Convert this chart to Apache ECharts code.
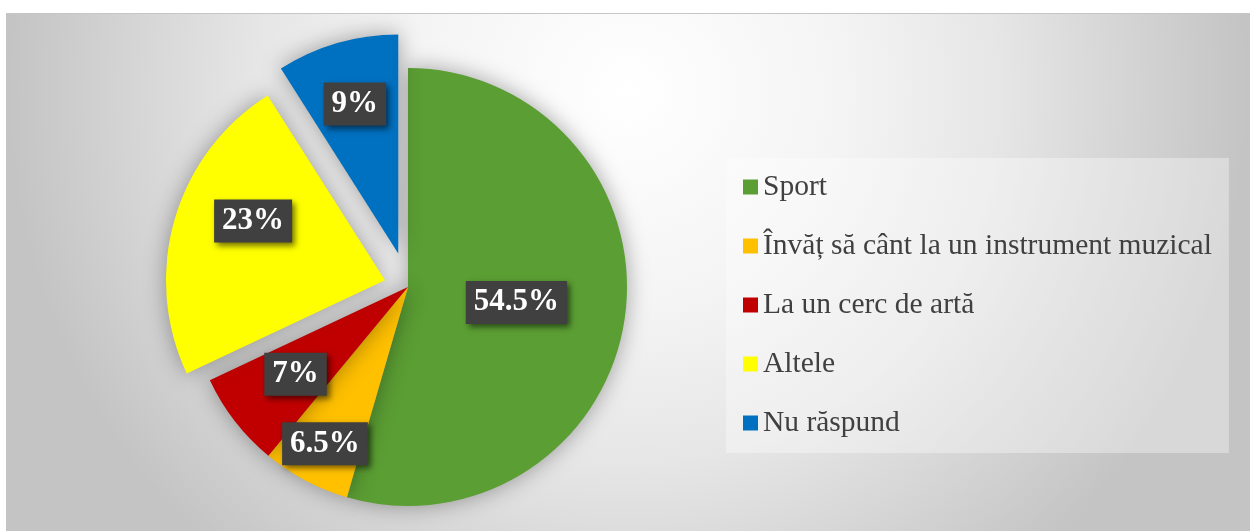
<!DOCTYPE html>
<html lang="ro">
<head>
<meta charset="UTF-8">
<title>Activități extrașcolare</title>
<script src="https://cdn.jsdelivr.net/npm/echarts@6/dist/echarts.min.js"></script>
<style>
    html, body { margin: 0; padding: 0; background: #fff; }
    #chart {
        position: absolute; left: 6px; top: 13px;
        width: 1244px; height: 518px;
        border-top: 1px solid #c6c6c6;
        box-sizing: border-box;
    }
</style>
</head>
<body>
<div id="chart"></div>
<script>
    // date
    var categories = ['Sport', 'Învăț să cânt la un instrument muzical', 'La un cerc de artă', 'Altele', 'Nu răspund'];
    var shares = [54.5, 6.5, 7, 23, 9];

    // aspect
    var colors = ['#5b9e33', '#ffc000', '#c00000', '#ffff00', '#0070c0'];
    var explode = [0, 0, 0, 24, 35];          // px, felii scoase din centru
    var labelAt = [[0.5, 0], [0.81, 0], [0.65, 0], [0.66, 8], [0.71, 0]]; // fractie din raza, deviere unghi
    var cx = 402, cy = 273, R = 219;
    var serif = '"Liberation Serif", "Times New Roman", serif';

    var total = shares.reduce(function (a, b) { return a + b; }, 0);

    function midAngle(i) {
        var before = 0;
        for (var k = 0; k < i; k++) before += shares[k];
        return (before + shares[i] / 2) / total * 360;
    }

    // o serie pe felie, ca fiecare felie sa aiba propria deplasare
    function sliceSeries(i) {
        var a = midAngle(i) * Math.PI / 180;
        var vx = cx + Math.sin(a) * explode[i];
        var vy = cy - Math.cos(a) * explode[i];
        return {
            type: 'pie',
            center: [vx, vy],
            radius: [0, R],
            startAngle: 90,
            clockwise: true,
            silent: true,
            emphasis: { disabled: true },
            itemStyle: {
                shadowBlur: 22,
                shadowColor: 'rgba(0,0,0,0.35)'
            },
            label: {
                show: true,
                position: 'inside',
                formatter: '{c}%',
                color: '#fff',
                fontFamily: serif,
                fontWeight: 'bold',
                fontSize: 31,
                lineHeight: 31,
                backgroundColor: '#404040',
                padding: [6, 8, 6, 8],
                shadowColor: 'rgba(0,0,0,0.55)',
                shadowBlur: 6,
                shadowOffsetX: 3,
                shadowOffsetY: 3
            },
            labelLine: { show: false },
            labelLayout: function (p) {
                var b = (midAngle(i) + labelAt[i][1]) * Math.PI / 180;
                var d = labelAt[i][0] * R;
                return {
                    x: vx + Math.sin(b) * d,
                    y: vy - Math.cos(b) * d,
                    align: 'center',
                    verticalAlign: 'middle'
                };
            },
            data: categories.map(function (name, j) {
                var item = { name: name, value: shares[j] };
                if (j !== i) {
                    item.itemStyle = { color: 'rgba(0,0,0,0)', shadowBlur: 0 };
                    item.label = { show: false };
                }
                return item;
            })
        };
    }

    var myChart = echarts.init(document.getElementById('chart'));
    var option = {
        animation: false,
        backgroundColor: {
            type: 'radial', x: 0.5, y: 0.15, r: 1.2,
            colorStops: [
                { offset: 0, color: '#ffffff' },
                { offset: 0.35, color: '#f4f4f4' },
                { offset: 0.6, color: '#e6e6e6' },
                { offset: 0.8, color: '#d5d5d5' },
                { offset: 1, color: '#c4c4c4' }
            ]
        },
        color: colors,
        legend: {
            orient: 'vertical',
            left: 720,
            top: 144,
            padding: [14, 17, 15, 17],
            backgroundColor: 'rgba(255,255,255,0.35)',
            icon: 'rect',
            itemWidth: 15,
            itemHeight: 15,
            itemGap: 29,
            selectedMode: false,
            textStyle: { fontFamily: serif, fontSize: 29.5, color: '#404040', lineHeight: 30 },
            data: categories.map(function (name, i) {
                return { name: name, itemStyle: { color: colors[i] } };
            })
        },
        series: categories.map(function (name, i) { return sliceSeries(i); })
    };
    myChart.setOption(option);
</script>
</body>
</html>
